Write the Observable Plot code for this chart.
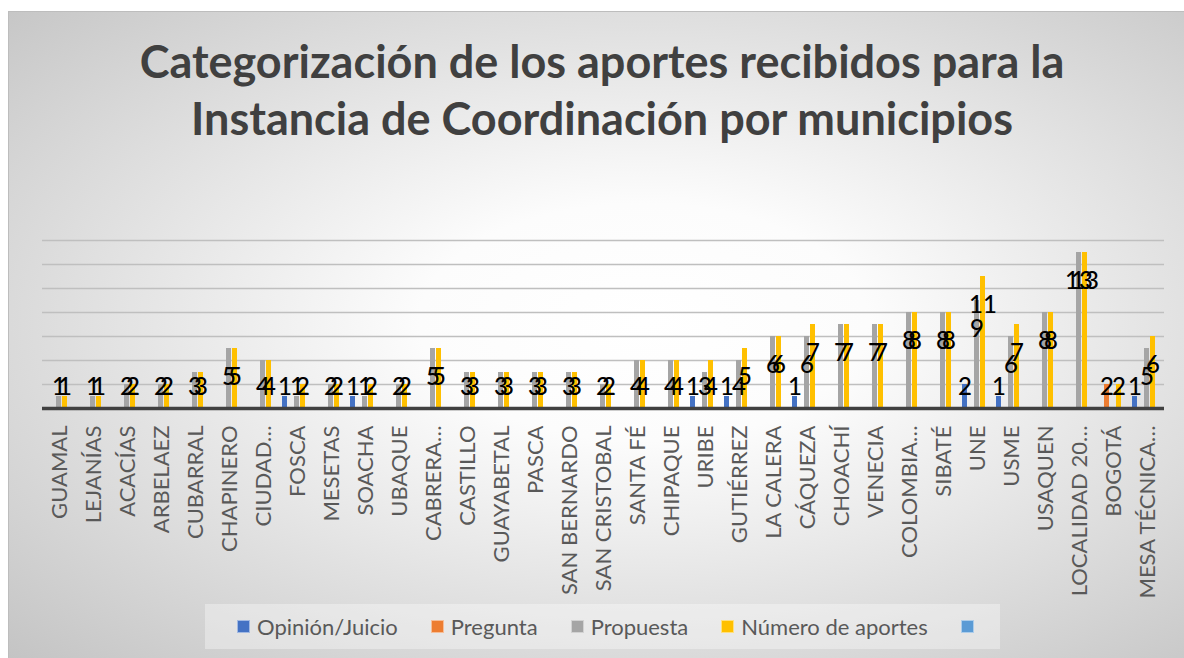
<!DOCTYPE html>
<html><head><meta charset="utf-8">
<script src="https://cdn.jsdelivr.net/npm/d3@7"></script>
<script src="https://cdn.jsdelivr.net/npm/@observablehq/plot@0.6"></script>
<style>
html,body{margin:0;padding:0;background:#fff;width:1184px;height:658px;overflow:hidden;}
#chart{position:absolute;left:8px;top:11px;width:1176px;height:647px;border-left:1px solid #bdbdbd;border-top:1px solid #bdbdbd;box-sizing:border-box;
 background:radial-gradient(ellipse farthest-corner at 54% 48%, #ffffff 0%, #fcfcfc 25%, #c4c4c4 100%);overflow:hidden;font-family:Lato,sans-serif;}
#title{position:absolute;left:0;width:1186px;top:21px;text-align:center;font-weight:700;font-size:45px;line-height:57px;color:#404040;white-space:nowrap;}
#plot{position:absolute;left:0;top:188px;}
#legend{position:absolute;left:196px;top:592px;width:795px;height:45px;background:rgba(255,255,255,0.35);display:flex;align-items:center;padding-left:32px;box-sizing:border-box;gap:33px;}
.item{display:flex;align-items:center;gap:7px;font-size:22px;color:#595959;}
.sw{width:13px;height:13px;box-sizing:border-box;border:1px solid rgba(255,255,255,0.5);}
</style>
</head><body>
<div id="chart">
 <div id="title">Categorización de los aportes recibidos para la<br>Instancia de Coordinación por municipios</div>
 <div id="plot"></div>
 <div id="legend"></div>
</div>
<script>
const categories = ["GUAMAL","LEJANÍAS","ACACÍAS","ARBELAEZ","CUBARRAL","CHAPINERO","CIUDAD…","FOSCA","MESETAS","SOACHA","UBAQUE","CABRERA…","CASTILLO","GUAYABETAL","PASCA","SAN BERNARDO","SAN CRISTOBAL","SANTA FÉ","CHIPAQUE","URIBE","GUTIÉRREZ","LA CALERA","CÁQUEZA","CHOACHÍ","VENECIA","COLOMBIA…","SIBATÉ","UNE","USME","USAQUEN","LOCALIDAD 20…","BOGOTÁ","MESA TÉCNICA…"];
const opinion   = [null,null,null,null,null,null,null,1,null,1,null,null,null,null,null,null,null,null,null,1,1,null,1,null,null,null,null,2,1,null,null,null,1];
const pregunta  = [null,null,null,null,null,null,null,null,null,null,null,null,null,null,null,null,null,null,null,null,null,null,null,null,null,null,null,null,null,null,null,2,null];
const propuesta = [1,1,2,2,3,5,4,1,2,1,2,5,3,3,3,3,2,4,4,3,4,6,6,7,7,8,8,9,6,8,13,null,5];
const aportes   = [1,1,2,2,3,5,4,2,2,2,2,5,3,3,3,3,2,4,4,4,5,6,7,7,7,8,8,11,7,8,13,2,6];
const seriesNames = ["Opinión/Juicio","Pregunta","Propuesta","Número de aportes",""];
const seriesKeys = ["Opinión/Juicio","Pregunta","Propuesta","Número de aportes","Serie5"];
const seriesColors = ["#4472C4","#ED7D31","#A5A5A5","#FFC000","#5B9BD5"];
const gridTicks = [2,4,6,8,10,12,14];

const seriesArrays = [opinion, pregunta, propuesta, aportes];
const rows = [];
categories.forEach((c, i) => {
  seriesArrays.forEach((arr, j) => {
    if (arr[i] != null) rows.push({cat: c, series: seriesKeys[j], value: arr[i]});
  });
});

const chart = Plot.plot({
  width: 1175, height: 400,
  marginLeft: 29, marginRight: 16, marginTop: 40, marginBottom: 192,
  style: {background: "transparent", fontFamily: "Lato, sans-serif", fontSize: "22px", color: "#595959", overflow: "visible"},
  fx: {domain: categories, padding: 0, axis: "bottom", tickRotate: -90, tickSize: 0, tickPadding: 17, label: null},
  x: {domain: seriesKeys, paddingInner: 0.1, paddingOuter: 0.35, axis: null},
  y: {domain: [0, 14], axis: null},
  color: {domain: seriesKeys, range: seriesColors},
  marks: [
    Plot.ruleY(gridTicks, {stroke: "#bfbfbf", strokeWidth: 1.5}),
    Plot.barY(rows, {fx: "cat", x: "series", y: "value", fill: "series"}),
    Plot.ruleY([0], {stroke: "#404040", strokeWidth: 3.5}),
    Plot.text(rows, {fx: "cat", x: "series", y: d => Math.max(d.value - 2.4, 1.8), text: d => String(d.value), fill: "#000", fontSize: 24, fontWeight: 500})
  ]
});
document.getElementById("plot").appendChild(chart);

const legend = document.getElementById("legend");
seriesNames.forEach((name, i) => {
  const it = document.createElement("div");
  it.className = "item";
  const sw = document.createElement("div");
  sw.className = "sw";
  sw.style.background = seriesColors[i];
  it.appendChild(sw);
  if (name) { const t = document.createElement("span"); t.textContent = name; it.appendChild(t); }
  legend.appendChild(it);
});
</script>
</body></html>
